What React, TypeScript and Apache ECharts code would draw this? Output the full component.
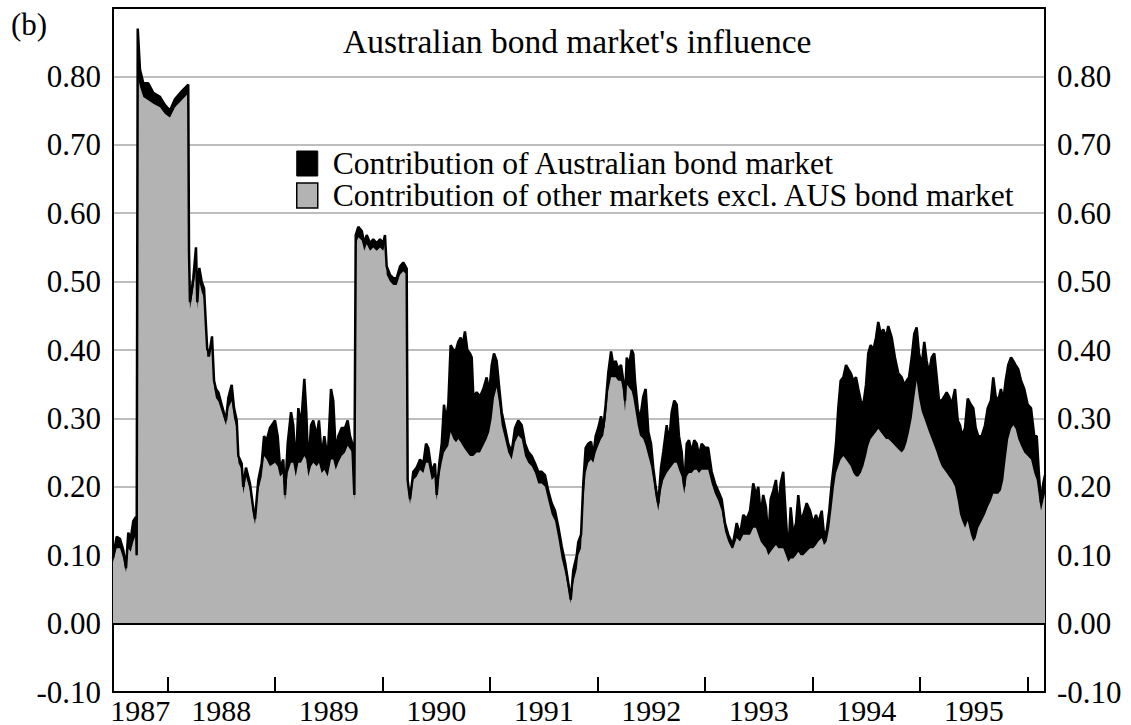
import React, { useEffect, useRef } from 'react';
import * as echarts from 'echarts';

const FONT = '"Liberation Serif", "Times New Roman", serif';

const X_MIN = 1987.493;
const X_MAX = 1996.163;

const years = [
  1987.493, 1987.527, 1987.558, 1987.589, 1987.614, 1987.635, 1987.658, 1987.682, 1987.707, 1987.713,
  1987.723, 1987.744, 1987.775, 1987.821, 1987.868, 1987.930, 1987.977, 1988.023, 1988.070, 1988.132,
  1988.193, 1988.200, 1988.209, 1988.240, 1988.265, 1988.277, 1988.296, 1988.318, 1988.340, 1988.358,
  1988.370, 1988.395, 1988.414, 1988.433, 1988.451, 1988.473, 1988.504, 1988.544, 1988.566, 1988.597,
  1988.619, 1988.644, 1988.659, 1988.690, 1988.705, 1988.730, 1988.767, 1988.798, 1988.814, 1988.845,
  1988.876, 1988.898, 1988.923, 1988.953, 1989.000, 1989.025, 1989.047, 1989.077, 1989.093, 1989.118,
  1989.149, 1989.170, 1989.193, 1989.217, 1989.242, 1989.273, 1989.291, 1989.310, 1989.335, 1989.356,
  1989.388, 1989.409, 1989.434, 1989.459, 1989.490, 1989.521, 1989.542, 1989.565, 1989.589, 1989.620,
  1989.651, 1989.676, 1989.698, 1989.719, 1989.738, 1989.751, 1989.775, 1989.807, 1989.831, 1989.853,
  1989.884, 1989.914, 1989.946, 1989.977, 1990.007, 1990.023, 1990.039, 1990.070, 1990.100, 1990.132,
  1990.163, 1990.193, 1990.225, 1990.234, 1990.256, 1990.287, 1990.318, 1990.349, 1990.380, 1990.405,
  1990.426, 1990.458, 1990.488, 1990.504, 1990.528, 1990.551, 1990.572, 1990.591, 1990.612, 1990.634,
  1990.659, 1990.684, 1990.705, 1990.727, 1990.746, 1990.767, 1990.789, 1990.814, 1990.830, 1990.845,
  1990.876, 1990.907, 1990.938, 1990.969, 1990.993, 1991.016, 1991.037, 1991.062, 1991.087, 1991.109,
  1991.140, 1991.170, 1991.202, 1991.233, 1991.263, 1991.295, 1991.326, 1991.356, 1991.388, 1991.419,
  1991.449, 1991.481, 1991.512, 1991.542, 1991.574, 1991.605, 1991.635, 1991.667, 1991.698, 1991.728,
  1991.751, 1991.775, 1991.807, 1991.821, 1991.847, 1991.868, 1991.890, 1991.914, 1991.940, 1991.961,
  1991.983, 1992.007, 1992.033, 1992.054, 1992.076, 1992.100, 1992.126, 1992.147, 1992.169, 1992.193,
  1992.219, 1992.240, 1992.256, 1992.272, 1992.293, 1992.318, 1992.333, 1992.349, 1992.374, 1992.395,
  1992.426, 1992.448, 1992.473, 1992.498, 1992.519, 1992.541, 1992.566, 1992.591, 1992.612, 1992.644,
  1992.665, 1992.690, 1992.714, 1992.737, 1992.758, 1992.783, 1992.807, 1992.830, 1992.851, 1992.876,
  1992.900, 1992.923, 1992.944, 1992.969, 1993.000, 1993.030, 1993.062, 1993.093, 1993.123, 1993.155,
  1993.186, 1993.216, 1993.247, 1993.263, 1993.295, 1993.326, 1993.356, 1993.388, 1993.419, 1993.449,
  1993.474, 1993.496, 1993.518, 1993.542, 1993.567, 1993.589, 1993.611, 1993.635, 1993.660, 1993.682,
  1993.704, 1993.728, 1993.753, 1993.775, 1993.797, 1993.821, 1993.847, 1993.868, 1993.890, 1993.914,
  1993.946, 1993.977, 1994.007, 1994.033, 1994.054, 1994.086, 1994.107, 1994.132, 1994.156, 1994.179,
  1994.200, 1994.219, 1994.240, 1994.262, 1994.287, 1994.312, 1994.333, 1994.356, 1994.380, 1994.405,
  1994.426, 1994.449, 1994.473, 1994.498, 1994.519, 1994.541, 1994.566, 1994.591, 1994.612, 1994.634,
  1994.659, 1994.684, 1994.705, 1994.737, 1994.767, 1994.798, 1994.830, 1994.854, 1994.876, 1994.898,
  1994.923, 1994.947, 1994.969, 1994.991, 1995.016, 1995.040, 1995.062, 1995.084, 1995.109, 1995.133,
  1995.156, 1995.177, 1995.202, 1995.226, 1995.248, 1995.270, 1995.295, 1995.326, 1995.351, 1995.372,
  1995.393, 1995.419, 1995.444, 1995.474, 1995.496, 1995.518, 1995.542, 1995.574, 1995.605, 1995.630,
  1995.660, 1995.682, 1995.704, 1995.728, 1995.753, 1995.775, 1995.797, 1995.821, 1995.847, 1995.868,
  1995.890, 1995.914, 1995.940, 1995.970, 1996.002, 1996.033, 1996.063, 1996.086, 1996.107, 1996.126,
  1996.147, 1996.163,
];

// Total influence (top of the black band)
const totalValues = [
  0.096, 0.127, 0.124, 0.107, 0.081, 0.133, 0.124, 0.150, 0.156, 0.100,
  0.870, 0.810, 0.790, 0.790, 0.776, 0.770, 0.758, 0.750, 0.767, 0.778,
  0.788, 0.545, 0.470, 0.505, 0.550, 0.470, 0.520, 0.500, 0.490, 0.435,
  0.400, 0.400, 0.420, 0.355, 0.343, 0.338, 0.320, 0.297, 0.330, 0.349,
  0.315, 0.297, 0.245, 0.234, 0.200, 0.228, 0.205, 0.168, 0.153, 0.210,
  0.234, 0.274, 0.268, 0.286, 0.297, 0.274, 0.228, 0.240, 0.188, 0.263,
  0.309, 0.290, 0.228, 0.315, 0.290, 0.358, 0.309, 0.228, 0.290, 0.297,
  0.274, 0.297, 0.245, 0.274, 0.240, 0.343, 0.326, 0.251, 0.274, 0.286,
  0.286, 0.297, 0.274, 0.263, 0.188, 0.568, 0.580, 0.574, 0.556, 0.568,
  0.556, 0.562, 0.556, 0.562, 0.556, 0.568, 0.522, 0.510, 0.505, 0.505,
  0.522, 0.528, 0.519, 0.210, 0.182, 0.222, 0.228, 0.240, 0.234, 0.263,
  0.257, 0.222, 0.234, 0.188, 0.234, 0.263, 0.320, 0.297, 0.320, 0.407,
  0.400, 0.400, 0.412, 0.418, 0.407, 0.427, 0.400, 0.395, 0.389, 0.332,
  0.338, 0.332, 0.343, 0.360, 0.338, 0.378, 0.395, 0.384, 0.343, 0.309,
  0.286, 0.263, 0.251, 0.286, 0.297, 0.290, 0.263, 0.251, 0.245, 0.234,
  0.222, 0.222, 0.217, 0.194, 0.176, 0.165, 0.142, 0.113, 0.090, 0.060,
  0.035, 0.078, 0.100, 0.119, 0.130, 0.205, 0.257, 0.263, 0.266, 0.245,
  0.274, 0.286, 0.303, 0.286, 0.320, 0.366, 0.398, 0.378, 0.384, 0.372,
  0.378, 0.355, 0.326, 0.389, 0.378, 0.400, 0.395, 0.355, 0.315, 0.297,
  0.332, 0.343, 0.280, 0.263, 0.228, 0.200, 0.176, 0.228, 0.251, 0.290,
  0.263, 0.309, 0.326, 0.320, 0.274, 0.251, 0.200, 0.263, 0.268, 0.251,
  0.268, 0.263, 0.245, 0.263, 0.257, 0.257, 0.222, 0.205, 0.194, 0.182,
  0.147, 0.130, 0.119, 0.119, 0.147, 0.130, 0.159, 0.153, 0.165, 0.205,
  0.188, 0.200, 0.159, 0.188, 0.170, 0.124, 0.182, 0.194, 0.210, 0.170,
  0.205, 0.222, 0.153, 0.100, 0.170, 0.130, 0.147, 0.188, 0.153, 0.159,
  0.176, 0.165, 0.147, 0.159, 0.147, 0.165, 0.130, 0.136, 0.165, 0.205,
  0.234, 0.263, 0.315, 0.355, 0.360, 0.378, 0.372, 0.366, 0.355, 0.360,
  0.343, 0.326, 0.320, 0.349, 0.395, 0.407, 0.400, 0.418, 0.441, 0.424,
  0.430, 0.418, 0.435, 0.418, 0.389, 0.366, 0.360, 0.349, 0.355, 0.360,
  0.389, 0.424, 0.433, 0.395, 0.378, 0.412, 0.384, 0.366, 0.389, 0.395,
  0.360, 0.326, 0.326, 0.332, 0.338, 0.332, 0.320, 0.343, 0.297, 0.290,
  0.274, 0.286, 0.329, 0.320, 0.315, 0.286, 0.274, 0.274, 0.290, 0.315,
  0.326, 0.360, 0.332, 0.326, 0.343, 0.326, 0.355, 0.378, 0.389, 0.384,
  0.378, 0.372, 0.355, 0.343, 0.320, 0.315, 0.274, 0.274, 0.217, 0.176,
  0.205, 0.217,
];

// Contribution of other markets excl. AUS bond market (top of the grey area)
const otherValues = [
  0.090, 0.110, 0.110, 0.095, 0.075, 0.110, 0.105, 0.120, 0.130, 0.095,
  0.800, 0.785, 0.770, 0.765, 0.760, 0.755, 0.745, 0.740, 0.755, 0.765,
  0.775, 0.530, 0.460, 0.490, 0.520, 0.460, 0.500, 0.485, 0.475, 0.425,
  0.390, 0.390, 0.405, 0.345, 0.330, 0.325, 0.310, 0.290, 0.315, 0.325,
  0.300, 0.285, 0.235, 0.225, 0.190, 0.215, 0.195, 0.160, 0.145, 0.195,
  0.215, 0.245, 0.240, 0.230, 0.235, 0.230, 0.215, 0.220, 0.180, 0.220,
  0.235, 0.235, 0.215, 0.235, 0.235, 0.245, 0.240, 0.215, 0.230, 0.235,
  0.230, 0.235, 0.220, 0.225, 0.215, 0.240, 0.240, 0.225, 0.235, 0.245,
  0.250, 0.260, 0.255, 0.250, 0.180, 0.555, 0.565, 0.560, 0.545, 0.555,
  0.545, 0.550, 0.545, 0.550, 0.545, 0.555, 0.510, 0.500, 0.495, 0.495,
  0.510, 0.515, 0.510, 0.200, 0.175, 0.210, 0.215, 0.225, 0.220, 0.235,
  0.235, 0.210, 0.215, 0.180, 0.215, 0.235, 0.250, 0.255, 0.260, 0.280,
  0.270, 0.265, 0.270, 0.265, 0.260, 0.255, 0.250, 0.245, 0.245, 0.245,
  0.250, 0.250, 0.260, 0.270, 0.280, 0.300, 0.330, 0.345, 0.320, 0.290,
  0.270, 0.250, 0.240, 0.265, 0.275, 0.270, 0.245, 0.235, 0.230, 0.220,
  0.205, 0.205, 0.200, 0.180, 0.160, 0.150, 0.125, 0.095, 0.075, 0.050,
  0.030, 0.060, 0.080, 0.100, 0.110, 0.180, 0.220, 0.235, 0.240, 0.235,
  0.250, 0.260, 0.270, 0.275, 0.300, 0.340, 0.360, 0.360, 0.360, 0.355,
  0.355, 0.340, 0.310, 0.350, 0.345, 0.340, 0.330, 0.315, 0.290, 0.275,
  0.270, 0.260, 0.245, 0.230, 0.210, 0.185, 0.165, 0.195, 0.210, 0.220,
  0.225, 0.230, 0.235, 0.235, 0.225, 0.215, 0.190, 0.215, 0.220, 0.220,
  0.225, 0.225, 0.220, 0.225, 0.225, 0.225, 0.205, 0.190, 0.180, 0.165,
  0.135, 0.120, 0.110, 0.110, 0.125, 0.120, 0.130, 0.130, 0.130, 0.140,
  0.140, 0.130, 0.120, 0.115, 0.110, 0.100, 0.105, 0.110, 0.115, 0.110,
  0.110, 0.110, 0.100, 0.090, 0.095, 0.095, 0.100, 0.105, 0.100, 0.100,
  0.105, 0.110, 0.110, 0.115, 0.120, 0.125, 0.115, 0.120, 0.140, 0.170,
  0.200, 0.220, 0.230, 0.240, 0.245, 0.240, 0.235, 0.230, 0.220, 0.215,
  0.215, 0.220, 0.230, 0.245, 0.260, 0.270, 0.275, 0.280, 0.285, 0.280,
  0.275, 0.270, 0.270, 0.265, 0.260, 0.255, 0.250, 0.255, 0.265, 0.280,
  0.300, 0.330, 0.355, 0.330, 0.310, 0.300, 0.290, 0.280, 0.270, 0.260,
  0.250, 0.240, 0.230, 0.225, 0.220, 0.215, 0.210, 0.200, 0.180, 0.160,
  0.150, 0.140, 0.150, 0.130, 0.120, 0.125, 0.140, 0.150, 0.160, 0.170,
  0.180, 0.190, 0.190, 0.190, 0.195, 0.210, 0.240, 0.270, 0.285, 0.290,
  0.285, 0.270, 0.260, 0.250, 0.245, 0.240, 0.220, 0.210, 0.185, 0.165,
  0.180, 0.190,
];

const xTickYears = [1988, 1989, 1990, 1991, 1992, 1993, 1994, 1995, 1996];
const xLabelYears = [1987, 1988, 1989, 1990, 1991, 1992, 1993, 1994, 1995];

const TITLE = "Australian bond market's influence";
const NAME_AUS = 'Contribution of Australian bond market';
const NAME_OTHER = 'Contribution of other markets excl. AUS bond market';

export default function App() {
  const ref = useRef<HTMLDivElement>(null);

  useEffect(() => {
    if (!ref.current) return;
    const chart = echarts.init(ref.current, null, { renderer: 'svg' });

    const totalData = years.map((y, i) => [y, totalValues[i]]);
    const otherData = years.map((y, i) => [y, otherValues[i]]);
    const labelPositions = xLabelYears.map(
      (y) => (Math.max(y, X_MIN) + Math.min(y + 1, X_MAX)) / 2
    );

    const yLabelFormatter = (v: number) => (v > 0.85 ? '' : v.toFixed(2));

    chart.setOption({
      animation: false,
      backgroundColor: '#ffffff',
      title: {
        text: TITLE,
        left: 343,
        top: 24,
        padding: 0,
        textStyle: { fontFamily: FONT, fontSize: 33.5, fontWeight: 'normal', color: '#000' },
      },
      legend: {
        orient: 'vertical',
        left: 296,
        top: 146,
        padding: 0,
        itemWidth: 21,
        itemHeight: 25,
        itemGap: -3,
        selectedMode: false,
        textStyle: {
          fontFamily: FONT,
          fontSize: 31.6,
          lineHeight: 35,
          color: '#000',
          padding: [0, 0, 0, 10],
        },
        data: [
          { name: NAME_AUS, icon: 'rect', itemStyle: { color: '#000', borderColor: '#000', borderWidth: 1 } },
          { name: NAME_OTHER, icon: 'rect', itemStyle: { color: '#b3b3b3', borderColor: '#000', borderWidth: 1.5 } },
        ],
      },
      graphic: [
        {
          type: 'text',
          left: 11,
          top: 9,
          style: { text: '(b)', font: `31px ${FONT}`, fill: '#000' },
        },
      ],
      grid: { left: 113, right: 86, top: 8, bottom: 31 },
      xAxis: [
        {
          type: 'value',
          min: X_MIN,
          max: X_MAX,
          position: 'bottom',
          axisLine: { show: true, onZero: false, lineStyle: { color: '#000', width: 2 } },
          axisTick: {
            show: true,
            inside: true,
            length: 15,
            customValues: xTickYears,
            lineStyle: { color: '#000', width: 2 },
          },
          axisLabel: {
            customValues: labelPositions,
            formatter: (v: number) => String(Math.floor(v + 1e-6)),
            color: '#000',
            fontFamily: FONT,
            fontSize: 30,
            margin: 3,
          },
          splitLine: { show: false },
        },
        {
          type: 'value',
          min: X_MIN,
          max: X_MAX,
          position: 'top',
          axisLine: { show: true, onZero: false, lineStyle: { color: '#000', width: 2 } },
          axisTick: { show: false },
          axisLabel: { show: false },
          splitLine: { show: false },
        },
      ],
      yAxis: [
        {
          type: 'value',
          min: -0.1,
          max: 0.9,
          interval: 0.1,
          position: 'left',
          axisLine: { show: true, onZero: false, lineStyle: { color: '#000', width: 2 } },
          axisTick: { show: false },
          axisLabel: { formatter: yLabelFormatter, color: '#000', fontFamily: FONT, fontSize: 31, margin: 12 },
          splitLine: {
            show: true,
            showMinLine: false,
            showMaxLine: false,
            lineStyle: { color: '#bdbdbd', width: 2 },
          },
        },
        {
          type: 'value',
          min: -0.1,
          max: 0.9,
          interval: 0.1,
          position: 'right',
          axisLine: { show: true, onZero: false, lineStyle: { color: '#000', width: 2 } },
          axisTick: { show: false },
          axisLabel: { formatter: yLabelFormatter, color: '#000', fontFamily: FONT, fontSize: 31, margin: 12 },
          splitLine: { show: false },
        },
      ],
      series: [
        {
          name: NAME_AUS,
          type: 'line',
          data: totalData,
          symbol: 'none',
          lineStyle: { width: 0, color: '#000' },
          itemStyle: { color: '#000' },
          areaStyle: { color: '#000', opacity: 1 },
          z: 2,
          silent: true,
        },
        {
          name: NAME_OTHER,
          type: 'line',
          data: otherData,
          symbol: 'none',
          lineStyle: { width: 0, color: '#b3b3b3' },
          itemStyle: { color: '#b3b3b3' },
          areaStyle: { color: '#b3b3b3', opacity: 1 },
          z: 3,
          silent: true,
        },
        {
          name: 'total-outline',
          type: 'line',
          data: totalData,
          symbol: 'none',
          lineStyle: { width: 2.5, color: '#000' },
          z: 4,
          silent: true,
          markLine: {
            silent: true,
            symbol: ['none', 'none'],
            label: { show: false },
            lineStyle: { color: '#000', width: 2, type: 'solid' },
            data: [{ yAxis: 0 }],
          },
        },
      ],
    });

    return () => chart.dispose();
  }, []);

  return (
    <div
      ref={ref}
      style={{ position: 'absolute', left: 0, top: 0, width: 1131, height: 725, background: '#fff' }}
    />
  );
}
